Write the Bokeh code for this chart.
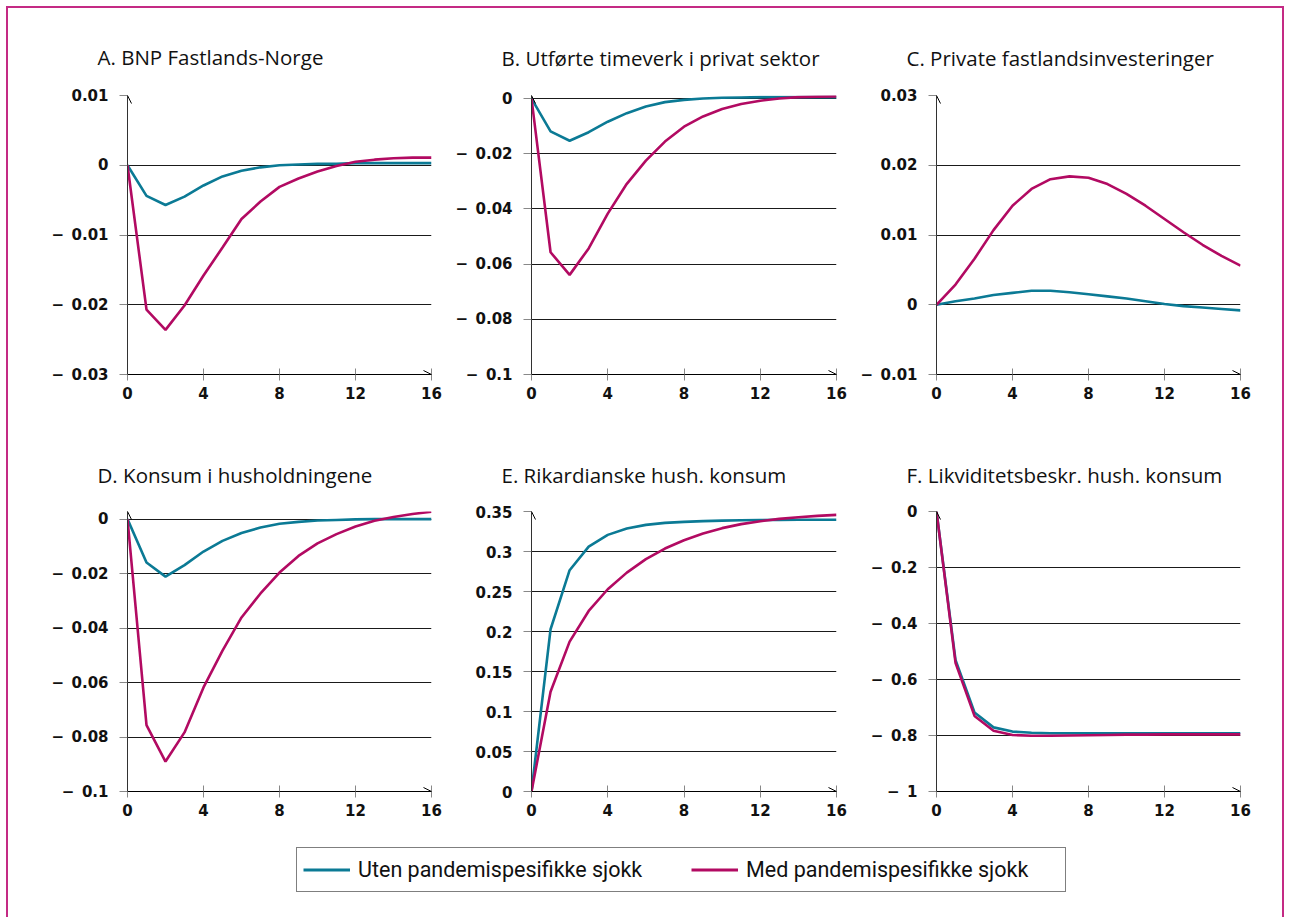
from bokeh.plotting import figure
from bokeh.layouts import column, row
from bokeh.models import (Range1d, FixedTicker, CustomJSTickFormatter, Arrow, OpenHead,
                          Legend, LegendItem)
from bokeh.embed import file_html
from bokeh.resources import INLINE

# ---------------- data ----------------
quarters = list(range(17))
x_ticks = [0, 4, 8, 12, 16]
x_labels = ["0", "4", "8", "12", "16"]

series_names = ["Uten pandemispesifikke sjokk", "Med pandemispesifikke sjokk"]

titles = ["A. BNP Fastlands-Norge", "B. Utførte timeverk i privat sektor",
          "C. Private fastlandsinvesteringer", "D. Konsum i husholdningene",
          "E. Rikardianske hush. konsum", "F. Likviditetsbeskr. hush. konsum"]

A_uten = [0, -0.0044, -0.0057, -0.0045, -0.0029, -0.0016, -0.0008, -0.0003, 0.0000,
          0.0001, 0.0002, 0.0002, 0.0003, 0.0003, 0.0003, 0.0003, 0.0003]
A_med = [0, -0.0207, -0.0236, -0.0201, -0.0158, -0.0118, -0.0077, -0.0052, -0.0031,
         -0.0019, -0.0009, -0.0001, 0.0005, 0.0008, 0.0010, 0.0011, 0.0011]
B_uten = [0, -0.0119, -0.0153, -0.0122, -0.0084, -0.0053, -0.0029, -0.0013, -0.0005,
          0.0000, 0.0003, 0.0004, 0.0005, 0.0005, 0.0005, 0.0005, 0.0005]
B_med = [0, -0.0557, -0.0639, -0.0543, -0.0417, -0.0309, -0.0225, -0.0156, -0.0102,
         -0.0065, -0.0038, -0.0020, -0.0008, 0.0000, 0.0005, 0.0007, 0.0008]
C_uten = [0, 0.0005, 0.0009, 0.0014, 0.0017, 0.0020, 0.0020, 0.0018, 0.0015,
          0.0012, 0.0009, 0.0005, 0.0001, -0.0002, -0.0004, -0.0006, -0.0008]
C_med = [0, 0.0029, 0.0066, 0.0107, 0.0142, 0.0166, 0.0180, 0.0184, 0.0182,
         0.0173, 0.0159, 0.0142, 0.0123, 0.0104, 0.0086, 0.0070, 0.0056]
D_uten = [0, -0.0159, -0.0211, -0.0169, -0.0119, -0.0080, -0.0051, -0.0031, -0.0017,
          -0.0010, -0.0005, -0.0003, -0.0001, 0.0000, 0.0000, 0.0000, 0.0000]
D_med = [0, -0.0756, -0.0890, -0.0783, -0.0618, -0.0483, -0.0361, -0.0273, -0.0196,
         -0.0135, -0.0089, -0.0055, -0.0027, -0.0006, 0.0008, 0.0019, 0.0027]
E_uten = [0, 0.2028, 0.2766, 0.3061, 0.3208, 0.3287, 0.3333, 0.3358, 0.3370,
          0.3380, 0.3386, 0.3390, 0.3393, 0.3395, 0.3396, 0.3397, 0.3397]
E_med = [0, 0.1247, 0.1873, 0.2257, 0.2528, 0.2736, 0.2904, 0.3037, 0.3141,
         0.3224, 0.3292, 0.3342, 0.3379, 0.3408, 0.3429, 0.3445, 0.3458]
F_uten = [0, -0.530, -0.718, -0.771, -0.786, -0.790, -0.792, -0.792, -0.792,
          -0.792, -0.792, -0.792, -0.792, -0.792, -0.792, -0.792, -0.792]
F_med = [0, -0.540, -0.730, -0.783, -0.798, -0.801, -0.801, -0.800, -0.799,
         -0.798, -0.797, -0.797, -0.796, -0.796, -0.796, -0.796, -0.796]

A_yticks = [-0.03, -0.02, -0.01, 0, 0.01]
A_ylabels = ["\u2212\u20020.03", "\u2212\u20020.02", "\u2212\u20020.01", "0", "0.01"]
B_yticks = [-0.1, -0.08, -0.06, -0.04, -0.02, 0]
B_ylabels = ["\u2212\u20020.1", "\u2212\u20020.08", "\u2212\u20020.06", "\u2212\u20020.04",
             "\u2212\u20020.02", "0"]
C_yticks = [-0.01, 0, 0.01, 0.02, 0.03]
C_ylabels = ["\u2212\u20020.01", "0", "0.01", "0.02", "0.03"]
D_yticks = [-0.1, -0.08, -0.06, -0.04, -0.02, 0]
D_ylabels = ["\u2212\u20020.1", "\u2212\u20020.08", "\u2212\u20020.06", "\u2212\u20020.04",
             "\u2212\u20020.02", "0"]
E_yticks = [0, 0.05, 0.1, 0.15, 0.2, 0.25, 0.3, 0.35]
E_ylabels = ["0", "0.05", "0.1", "0.15", "0.2", "0.25", "0.3", "0.35"]
F_yticks = [-1, -0.8, -0.6, -0.4, -0.2, 0]
F_ylabels = ["\u2212\u20021", "\u2212\u20020.8", "\u2212\u20020.6", "\u2212\u20020.4",
             "\u2212\u20020.2", "0"]

# axis extents (bottom, top) of each panel's value axis
A_extent = (-0.03, 0.01)
B_extent = (-0.1, 0.0011)
C_extent = (-0.01, 0.03)
D_extent = (-0.1, 0.0028)
E_extent = (0, 0.35)
F_extent = (-1, 0)

# ---------------- styling ----------------
BLUE = "#0b7a95"
MAG = "#b20a62"
FRAME = "#c42a84"
TICK_FONT = "DejaVu Sans"
TITLE_FONT = "Open Sans"

panels = [
    (titles[0], A_uten, A_med, A_yticks, A_ylabels, A_extent),
    (titles[1], B_uten, B_med, B_yticks, B_ylabels, B_extent),
    (titles[2], C_uten, C_med, C_yticks, C_ylabels, C_extent),
    (titles[3], D_uten, D_med, D_yticks, D_ylabels, D_extent),
    (titles[4], E_uten, E_med, E_yticks, E_ylabels, E_extent),
    (titles[5], F_uten, F_med, F_yticks, F_ylabels, F_extent),
]

# geometry: (width, height, left, right, top, bottom, title_standoff)
geom = [
    (446, 430, 127, 15, 95, 56, 49),
    (405, 430, 85, 15, 93, 56, 48),
    (439, 430, 85, 50, 92, 56, 48),
    (446, 400, 127, 15, 81, 39, 45),
    (405, 400, 85, 15, 81, 39, 45),
    (439, 400, 85, 50, 81, 39, 45),
]

FMT_CODE = """
let best = -1, bd = 1e9;
for (let i = 0; i < tv.length; i++) {
  const d = Math.abs(tv[i] - tick);
  if (d < bd) { bd = d; best = i; }
}
return bd < 1e-9 ? tl[best] : "";
"""


def make_panel(title, uten, med, yticks, ylabels, extent, g):
    w, h, bl, br, bt, bb, st = g
    y0, y1 = extent
    p = figure(width=w, height=h, x_range=Range1d(0, 16), y_range=Range1d(y0, y1),
               toolbar_location=None, output_backend="svg",
               min_border_left=bl, min_border_right=br, min_border_top=bt,
               min_border_bottom=bb, border_fill_color=None,
               background_fill_color=None, outline_line_color=None)
    p.title.text = title
    p.title.align = "left"
    p.title.offset = -30
    p.title.standoff = st
    p.title.text_font = TITLE_FONT
    p.title.text_font_size = "20.5px"
    p.title.text_font_style = "normal"
    p.title.text_color = "#111111"

    p.xgrid.visible = False
    p.ygrid.ticker = FixedTicker(ticks=yticks)
    p.ygrid.grid_line_color = "#1a1a1a"
    p.ygrid.grid_line_width = 1

    xa = p.xaxis[0]
    xa.ticker = FixedTicker(ticks=x_ticks)
    xa.formatter = CustomJSTickFormatter(args=dict(tv=x_ticks, tl=x_labels), code=FMT_CODE)
    xa.axis_line_color = "black"
    xa.major_tick_in = 6
    xa.major_tick_out = 6
    xa.major_tick_line_color = "#888888"
    xa.minor_tick_line_color = None
    xa.major_label_standoff = 6
    xa.major_label_text_font = TICK_FONT
    xa.major_label_text_font_style = "bold"
    xa.major_label_text_font_size = "15px"
    xa.major_label_text_color = "#111111"

    ya = p.yaxis[0]
    ya.ticker = FixedTicker(ticks=yticks)
    ya.formatter = CustomJSTickFormatter(args=dict(tv=yticks, tl=ylabels), code=FMT_CODE)
    ya.axis_line_color = "#333333"
    ya.major_tick_in = 0
    ya.major_tick_out = 8
    ya.major_tick_line_color = "#888888"
    ya.minor_tick_line_color = None
    ya.major_label_standoff = 11
    ya.major_label_text_font = TICK_FONT
    ya.major_label_text_font_style = "bold"
    ya.major_label_text_font_size = "15px"
    ya.major_label_text_color = "#111111"

    p.line(quarters, uten, line_color=BLUE, line_width=2.6)
    p.line(quarters, med, line_color=MAG, line_width=2.6)

    p.add_layout(Arrow(end=OpenHead(size=8, line_width=1, line_color="black"),
                       x_start=0, y_start=y0, x_end=0, y_end=y1,
                       line_color="#333333", line_width=1))
    p.add_layout(Arrow(end=OpenHead(size=8, line_width=1, line_color="black"),
                       x_start=0, y_start=y0, x_end=16, y_end=y0,
                       line_color="black", line_width=1))
    return p


figs = [make_panel(*panels[i], geom[i]) for i in range(6)]

lg = figure(width=1290, height=87, x_range=Range1d(0, 1), y_range=Range1d(0, 1),
            toolbar_location=None, output_backend="svg", min_border=0,
            x_axis_location=None, y_axis_location=None,
            border_fill_color=None, background_fill_color=None, outline_line_color=None)
lg.grid.visible = False
r1 = lg.line(x=[-3, -2], y=[-3, -2], line_color=BLUE, line_width=3)
r2 = lg.line(x=[-3, -2], y=[-3, -2], line_color=MAG, line_width=3)
legend = Legend(items=[LegendItem(label=series_names[0], renderers=[r1]),
                       LegendItem(label=series_names[1], renderers=[r2])],
                orientation="horizontal", location=(296, 25),
                border_line_color="black", border_line_width=1,
                background_fill_color="white", padding=6, margin=0, spacing=20,
                glyph_width=47, glyph_height=31, label_height=31, label_width=313,
                label_standoff=8, label_text_font="Roboto",
                label_text_font_size="21.5px", label_text_color="#111111")
lg.add_layout(legend)

layout = column(row(figs[0], figs[1], figs[2]), row(figs[3], figs[4], figs[5]), lg,
                styles={
                    "background-color": "white",
                    "background-image": ", ".join([f"linear-gradient({FRAME},{FRAME})"] * 3),
                    "background-size": "2px 100%, 1277px 2px, 2px 100%",
                    "background-position": "6px 6px, 6px 6px, 1282px 6px",
                    "background-repeat": "no-repeat",
                })

open("out.html", "w").write(file_html(layout, INLINE))
